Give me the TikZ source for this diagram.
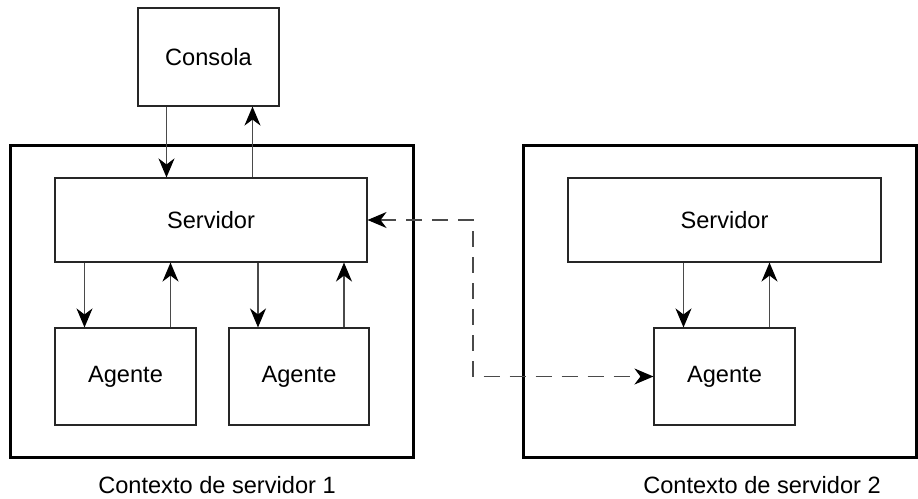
\documentclass[tikz,border=0pt]{standalone}
\usepackage{fontspec}
\setmainfont{Liberation Sans}
\usepackage{tikz}
\usetikzlibrary{arrows.meta,positioning}
\definecolor{linegray}{HTML}{4A4A4A}

\begin{document}
\begin{tikzpicture}[
    x=0.5pt,y=-0.5pt,
    font=\fontsize{11.8}{14}\selectfont,
    ctx/.style={draw=black,line width=1.5pt,minimum height=156pt,inner sep=0pt},
    caja/.style={draw=black!85,line width=0.55pt,inner sep=0pt},
    lbl/.style={inner sep=0pt,anchor=center},
    tip/.style={Stealth[length=9.5pt,width=8pt,inset=3pt,color=black]},
    arr/.style={-{Stealth[length=9.5pt,width=8pt,inset=3pt,color=black]},linegray,line width=0.6pt},
    darr/.style={{Stealth[length=9.5pt,width=8pt,inset=3pt,color=black]}-{Stealth[length=9.5pt,width=8pt,inset=3pt,color=black]},linegray,line width=0.6pt,dash pattern=on 8pt off 5pt}
    ]
    \useasboundingbox (0,0) rectangle (918,499);
    % contextos
    \node[ctx,minimum width=201.5pt] (ctx1) at (212,301) {};
    \node[ctx,minimum width=196.5pt] (ctx2) at (719.5,301) {};
    % cajas
    \node[caja,minimum width=70.5pt,minimum height=49pt] (cons) at (208.5,57) {Consola};
    \node[caja,minimum width=156pt,minimum height=42pt] (srv1) at (211,220) {Servidor};
    \node[caja,minimum width=70.5pt,minimum height=48.5pt] (ag1) at (125.5,376.5) {Agente};
    \node[caja,minimum width=70pt,minimum height=48.5pt] (ag2) at (299,376.5) {Agente};
    \node[caja,minimum width=156.5pt,minimum height=42pt] (srv2) at (724.5,220) {Servidor};
    \node[caja,minimum width=70.5pt,minimum height=48.5pt] (ag3) at (724.5,376.5) {Agente};
    % rotulos
    \node[lbl] (lbl1) at (217,485) {Contexto de servidor 1};
    \node[lbl] (lbl2) at (762,485) {Contexto de servidor 2};
    % flechas
    \draw[arr] ([xshift=-21pt]cons.south) -- ([xshift=-21pt]cons.south |- srv1.north);
    \draw[arr] ([xshift=22pt]cons.south |- srv1.north) -- ([xshift=22pt]cons.south);
    \foreach \ag/\srv in {ag1/srv1,ag2/srv1,ag3/srv2}{
        \draw[arr] ([xshift=-20.5pt]\ag.north |- \srv.south) -- ([xshift=-20.5pt]\ag.north);
        \draw[arr] ([xshift=22.5pt]\ag.north) -- ([xshift=22.5pt]\ag.north |- \srv.south);
    }
    \coordinate (jog) at (473,300);
    \draw[darr] (srv1.east) -- (srv1.east -| jog) -- (jog |- ag3.west) -- (ag3.west);
\end{tikzpicture}
\end{document}
